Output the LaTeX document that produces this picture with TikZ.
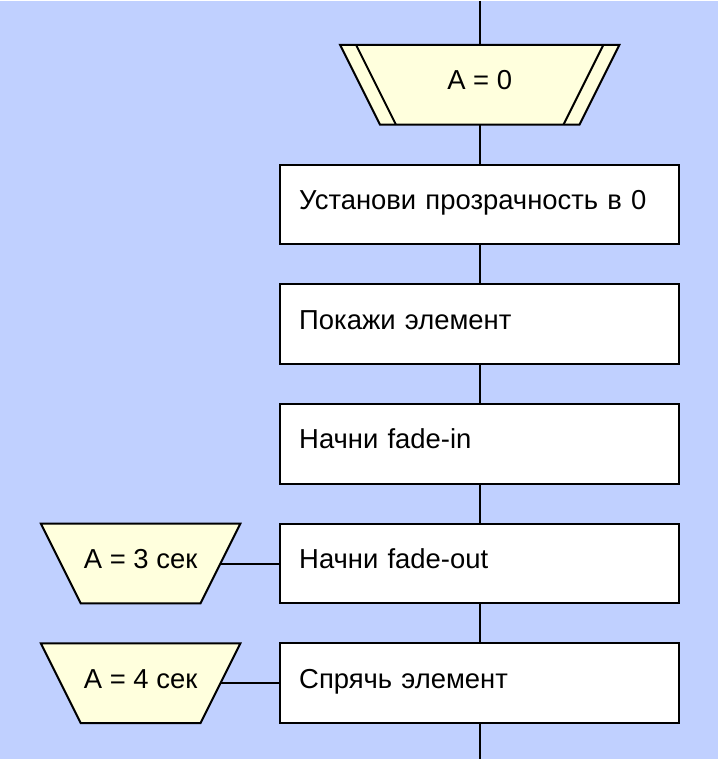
\documentclass[tikz,border=0pt]{standalone}
\usepackage{fontspec}
\setmainfont{Liberation Sans}
\usetikzlibrary{calc}
\definecolor{drakonbg}{RGB}{192,208,255}
\definecolor{drakonyel}{RGB}{255,255,221}
\tikzset{
  action/.style={draw, fill=white, line width=2pt, minimum width=400pt, minimum height=80pt,
    inner xsep=19pt, text width=362pt, align=left, text height=20pt, text depth=10pt},
  param/.style={draw, fill=drakonyel, line width=2pt},
  paramtext/.style={inner sep=0pt, outer sep=0pt, minimum height=80pt, text height=20pt, text depth=10pt},
  wire/.style={line width=2pt}
}
\begin{document}
\begin{tikzpicture}[x=1pt,y=-1pt,font=\fontsize{27.5}{32}\selectfont]
  % background
  \fill[drakonbg] (0,0) rectangle (720,760);
  \coordinate (top) at (481,0);
  \coordinate (bottom) at (481,760);
  % header
  \coordinate (startc) at (481,84);
  \filldraw[param] ($(startc)+(-140,-40)$) -- ++(280,0) -- ++(-40,80) -- ++(-200,0) -- cycle;
  \draw[wire] ($(startc)+(-124,-40)$) -- ++(40,80);
  \draw[wire] ($(startc)+(124,-40)$) -- ++(-40,80);
  \node[paramtext, minimum width=240pt] (start) at (startc) {A = 0};
  % action boxes
  \foreach \name/\y/\txt in {setzero/204/Установи прозрачность в 0, show/324/Покажи элемент,
      fadein/444/Начни fade-in, fadeout/564/Начни fade-out, hide/684/Спрячь элемент}
    \node[action] (\name) at (481,\y) {\txt};
  % timers
  \foreach \name/\y/\txt in {t3/564/A = 3 сек, t4/684/A = 4 сек}{
    \filldraw[param] (41,\y-40) -- ++(200,0) -- ++(-40,80) -- ++(-120,0) -- cycle;
    \node[paramtext, minimum width=160pt] (\name) at (141,\y) {\txt};
  }
  % skewer
  \draw[wire] (top) -- (start) -- (setzero) -- (show) -- (fadein) -- (fadeout) -- (hide) -- (bottom);
  \draw[wire] (t3) -- (fadeout);
  \draw[wire] (t4) -- (hide);
\end{tikzpicture}
\end{document}
